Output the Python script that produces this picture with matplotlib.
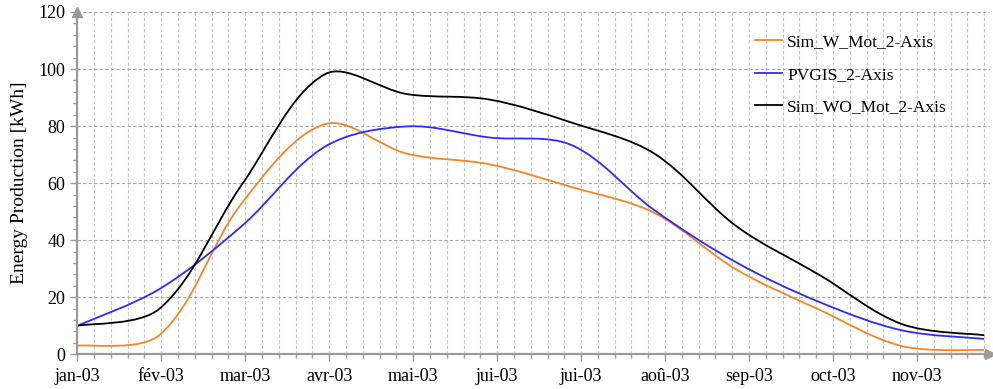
import numpy as np
import matplotlib
matplotlib.use("Agg")
import matplotlib.pyplot as plt
from matplotlib.path import Path
from matplotlib.patches import PathPatch
from matplotlib.lines import Line2D

plt.rcParams["font.family"] = ["Liberation Serif", "DejaVu Serif"]

# position of each monthly value, in months after jan-03
months = [0, 0.98, 1.96, 2.95, 3.93, 4.91, 5.89, 6.87, 7.85, 8.84, 9.82, 10.8]
month_labels = ["jan-03", "fév-03", "mar-03", "avr-03", "mai-03", "jui-03",
                "jui-03", "aoû-03", "sep-03", "oct-03", "nov-03"]

sim_w_mot = [3.0, 6.8, 53.0, 80.7, 70.3, 66.6, 58.6, 49.6, 29.7, 15.6, 2.9, 1.5]
pvgis = [10.0, 22.9, 45.0, 72.8, 79.9, 76.0, 73.3, 50.6, 32.2, 18.3, 8.4, 5.4]
sim_wo_mot = [10.0, 16.0, 59.5, 98.2, 91.2, 89.3, 81.2, 70.4, 44.9, 27.8, 10.6, 6.7]

series = [
    ("Sim_W_Mot_2-Axis", sim_w_mot, "#F7861F"),
    ("PVGIS_2-Axis", pvgis, "#2B2BFF"),
    ("Sim_WO_Mot_2-Axis", sim_wo_mot, "#000000"),
]


def smooth_path(ax, x, y):
    # smoothed line like the spreadsheet: bezier built in screen space,
    # handles scaled by the length of the neighbouring segments
    pts = ax.transData.transform(np.column_stack([x, y]).astype(float))
    n = len(pts)
    d = np.hypot(*np.diff(pts, axis=0).T)
    tan = np.empty_like(pts)
    tan[0] = (pts[1] - pts[0]) / 6
    tan[-1] = (pts[-1] - pts[-2]) / 6
    after = tan.copy()
    before = tan.copy()
    for i in range(1, n - 1):
        t = pts[i + 1] - pts[i - 1]
        after[i] = t * d[i] / (d[i - 1] + d[i]) / 3
        before[i] = t * d[i - 1] / (d[i - 1] + d[i]) / 3
    verts = [pts[0]]
    codes = [Path.MOVETO]
    for i in range(n - 1):
        verts += [pts[i] + after[i], pts[i + 1] - before[i + 1], pts[i + 1]]
        codes += [Path.CURVE4] * 3
    verts = ax.transData.inverted().transform(np.array(verts))
    return Path(verts, codes)


fig = plt.figure(figsize=(9.93, 3.89), dpi=100)
ax = fig.add_axes([77.3 / 993, 1 - 354.3 / 389, (990 - 77.3) / 993, (354.3 - 12) / 389])
ax.set_xlim(0, 10.87)
ax.set_ylim(0, 120)

ax.set_xticks(range(len(month_labels)))
ax.set_xticklabels(month_labels)
ax.set_xticks(np.arange(0, 10.81, 0.2), minor=True)
ax.set_yticks(range(0, 121, 20))
ax.set_yticks(range(0, 121, 4), minor=True)

ax.xaxis.grid(True, which="both", ls=(0, (3, 2)), color="#c4c4c4", lw=0.8)
ax.yaxis.grid(True, which="major", ls=(0, (3, 2)), color="#a8a8a8", lw=0.8)
ax.set_axisbelow(True)

for s in ["top", "right"]:
    ax.spines[s].set_visible(False)
for s in ["left", "bottom"]:
    ax.spines[s].set_color("#9a9a9a")
    ax.spines[s].set_linewidth(1.6)

ax.tick_params(which="both", color="#9a9a9a", direction="out", labelsize=13)
ax.tick_params(which="major", length=5, width=1)
ax.tick_params(which="minor", length=3, width=1)
ax.tick_params(axis="x", pad=5)

ax.plot(0, 1, marker="^", ms=7, color="#9a9a9a", transform=ax.transAxes, clip_on=False)
ax.plot(1, 0, marker=">", ms=7, color="#9a9a9a", transform=ax.transAxes, clip_on=False)

handles = []
for name, vals, col in series:
    ax.add_patch(PathPatch(smooth_path(ax, months, vals), fill=False, edgecolor=col, lw=1.3))
    handles.append(Line2D([], [], color=col, lw=1.3, label=name))

ax.legend(handles=handles, loc="upper left", bbox_to_anchor=(755 / 993, 1 - 34 / 389),
          bbox_transform=fig.transFigure, frameon=False, fontsize=12.5,
          handlelength=1.55, handletextpad=0.3, labelspacing=0.95,
          borderpad=0, borderaxespad=0)

ax.set_ylabel("Energy Production [kWh]", fontsize=14)
ax.yaxis.set_label_coords(-0.054, 0.5)

fig.savefig("out.png", dpi=100)
